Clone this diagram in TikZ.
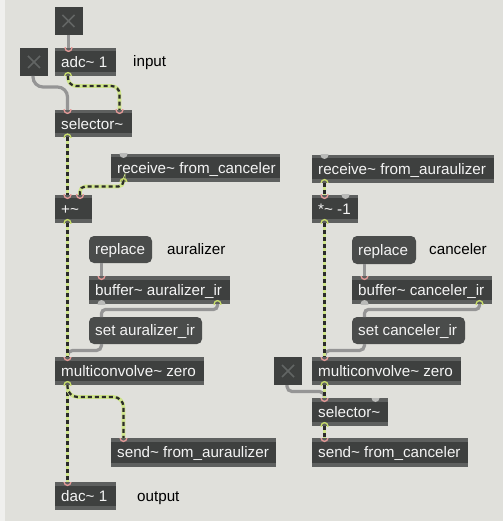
\documentclass[tikz,border=0pt]{standalone}
\usepackage{fontspec}
\newfontfamily\maxfont{Liberation Sans}
\definecolor{bgc}{HTML}{E0E0DB}
\definecolor{stripc}{HTML}{F0F0EE}
\definecolor{boxc}{HTML}{3E403F}
\definecolor{barc}{HTML}{5E605F}
\definecolor{msgc}{HTML}{4A4C4B}
\definecolor{xc}{HTML}{626564}
\definecolor{txtc}{HTML}{F4F4F4}
\definecolor{sigy}{HTML}{CFE58A}
\definecolor{sigk}{HTML}{2B2B2A}
\definecolor{cordc}{HTML}{959595}
\definecolor{inc}{HTML}{E59A98}
\definecolor{outc}{HTML}{C8DD6A}
\definecolor{idlec}{HTML}{B9BAB8}
\tikzset{
  objbox/.style={fill=boxc, draw=none, inner sep=0pt, outer sep=0pt,
    path picture={
      \fill[barc] (path picture bounding box.north west) rectangle ([yshift=-3.5pt]path picture bounding box.north east);
      \fill[barc] (path picture bounding box.south west) rectangle ([yshift=4pt]path picture bounding box.south east);}},
  msgbox/.style={fill=msgc, draw=none, rounded corners=5pt, inner sep=0pt, outer sep=0pt},
  togbox/.style={fill=boxc, draw=none, inner sep=0pt, outer sep=0pt, minimum size=28pt},
  objtxt/.style={text=txtc, font=\maxfont\fontsize{15.2}{17}\selectfont, inner sep=0pt},
  lbltxt/.style={text=black, font=\maxfont\fontsize{15.2}{17}\selectfont, inner sep=0pt},
  sig/.style={preaction={draw=sigy, line width=3.6pt}, draw=sigk, line width=2.2pt, dash pattern=on 4pt off 3pt},
  ctl/.style={draw=cordc, line width=3.2pt},
  inring/.style={draw=inc, line width=1.3pt},
  outring/.style={draw=outc, line width=1.3pt},
}
% name, x1, y1, x2, y2, text
\newcommand\mobj[6]{%
  \node[objbox, minimum width={#4-#2}, minimum height={#5-#3}, anchor=north west] (#1) at (#2,#3) {};
  \node[objtxt, anchor=base west] (#1-t) at ([xshift=6pt, yshift=-5.3pt]#1.west) {#6};}
\newcommand\mmsg[6]{%
  \node[msgbox, minimum width={#4-#2}, minimum height={#5-#3}, anchor=north west] (#1) at (#2,#3) {};
  \node[objtxt, anchor=base west] (#1-t) at ([xshift=6pt, yshift=-5.3pt]#1.west) {#6};}
\newcommand\mtog[3]{%
  \node[togbox, anchor=north west] (#1) at (#2,#3) {};
  \draw[xc, line width=1.6pt] ([xshift=8pt,yshift=-8pt]#1.north west) -- ([xshift=-8pt,yshift=8pt]#1.south east)
    ([xshift=-8pt,yshift=-8pt]#1.north east) -- ([xshift=8pt,yshift=8pt]#1.south west);}
\newcommand\inport[1]{\begin{scope}\clip ([xshift=-5pt]#1) rectangle ([xshift=5pt,yshift=-5pt]#1);
  \draw[inring] (#1) circle[radius=3.4pt];\end{scope}}
\newcommand\outport[1]{\begin{scope}\clip ([xshift=-5pt]#1) rectangle ([xshift=5pt,yshift=5pt]#1);
  \draw[outring] (#1) circle[radius=3.4pt];\end{scope}}
\newcommand\idlein[1]{\begin{scope}\clip ([xshift=-5pt]#1) rectangle ([xshift=5pt,yshift=-5pt]#1);
  \fill[idlec] (#1) circle[radius=4pt];\end{scope}}
\newcommand\idleout[1]{\begin{scope}\clip ([xshift=-5pt]#1) rectangle ([xshift=5pt,yshift=5pt]#1);
  \fill[idlec] (#1) circle[radius=4pt];\end{scope}}
\begin{document}
\begin{tikzpicture}[x=1pt, y=-1pt]
\useasboundingbox (0,0) rectangle (503,521);
\fill[bgc] (0,0) rectangle (503,521);
\fill[stripc] (0,0) rectangle (4.5,521);

% ---- toggles
\mtog{togA}{54.5}{7}
\mtog{togB}{20}{48}
\mtog{togC}{274}{357}

% ---- left column
\mobj{adc}{55}{48}{116}{76}{adc\char"7E\ 1}
\mobj{selA}{55}{110}{132}{137.5}{selector\char"7E}
\mobj{recvC}{111}{154}{280}{182}{receive\char"7E\ from\_canceler}
\mobj{plus}{55}{195}{92}{223}{+\char"7E}
\mmsg{replA}{89}{236}{152}{263}{replace}
\mobj{bufA}{89}{276}{230}{304}{buffer\char"7E\ auralizer\_ir}
\mmsg{setA}{89}{317}{202}{344}{set auralizer\_ir}
\mobj{mcA}{55}{357}{204}{385}{multiconvolve\char"7E\ zero}
\mobj{sendA}{111}{438}{276}{467}{send\char"7E\ from\_auraulizer}
\mobj{dac}{55}{482}{116}{510}{dac\char"7E\ 1}

% ---- right column
\mobj{recvA}{312}{155}{494}{183}{receive\char"7E\ from\_auraulizer}
\mobj{mul}{312}{195}{358}{223}{*\char"7E\ -1}
\mmsg{replC}{352}{236}{416}{264}{replace}
\mobj{bufC}{352}{276}{492}{304}{buffer\char"7E\ canceler\_ir}
\mmsg{setC}{352}{317}{465}{344}{set canceler\_ir}
\mobj{mcC}{312}{357}{461}{385}{multiconvolve\char"7E\ zero}
\mobj{selB}{312}{398}{388}{426}{selector\char"7E}
\mobj{sendC}{312}{438}{468}{467}{send\char"7E\ from\_canceler}

% ---- labels
\node[lbltxt, anchor=base west] (lin) at (133,67) {input};
\node[lbltxt, anchor=base west] (laur) at (167,254.5) {auralizer};
\node[lbltxt, anchor=base west] (lcan) at (429,254.5) {canceler};
\node[lbltxt, anchor=base west] (lout) at (137,501) {output};

% ---- port coordinates
\coordinate (adc-i1) at (68.5,48);
\coordinate (adc-o1) at (68,76);
\coordinate (selA-i1) at (67.5,110);
\coordinate (selA-i2) at (119.5,110);
\coordinate (selA-o1) at (67.5,137.5);
\coordinate (recvC-o1) at (123.5,182);
\coordinate (recvC-i1) at (123.5,154);
\coordinate (plus-i1) at (67.5,195);
\coordinate (plus-i2) at (80,195);
\coordinate (plus-o1) at (67.5,223);
\coordinate (replA-o1) at (101.5,263);
\coordinate (bufA-i1) at (101.5,276);
\coordinate (bufA-o1) at (101.5,304);
\coordinate (bufA-o2) at (217.5,304);
\coordinate (setA-i1) at (101.5,317);
\coordinate (setA-o1) at (101.5,344);
\coordinate (mcA-i1) at (67.5,357);
\coordinate (mcA-o1) at (67.5,385);
\coordinate (sendA-i1) at (123.5,438);
\coordinate (dac-i1) at (67.5,482);
\coordinate (recvA-i1) at (324.5,155);
\coordinate (recvA-o1) at (324.5,183);
\coordinate (mul-i1) at (324.5,195);
\coordinate (mul-i2) at (345.5,195);
\coordinate (mul-o1) at (324.5,223);
\coordinate (replC-o1) at (364.5,264);
\coordinate (bufC-i1) at (364.5,276);
\coordinate (bufC-o1) at (364.5,304);
\coordinate (bufC-o2) at (479.5,304);
\coordinate (setC-i1) at (364.5,317);
\coordinate (setC-o1) at (364.5,344);
\coordinate (mcC-i1) at (324.5,357);
\coordinate (mcC-o1) at (324.5,385);
\coordinate (selB-i1) at (324.5,398);
\coordinate (selB-i2) at (375.5,398);
\coordinate (selB-o1) at (324.5,426);
\coordinate (sendC-i1) at (324.5,438);
\coordinate (togA-o) at (togA.south);
\coordinate (togB-o) at ([xshift=-1pt]togB.south);
\coordinate (togC-o) at ([xshift=-1pt]togC.south);

% ---- control cords
\draw[ctl] (togA-o) -- (adc-i1);
\draw[ctl, rounded corners=10pt] (togB-o) -- ++(0,11) -| (selA-i1);
\draw[ctl] (replA-o1) -- (bufA-i1);
\draw[ctl, rounded corners=4pt] (bufA-o2) -- ++(0,5.5) -| (setA-i1);
\draw[ctl, rounded corners=5pt] (setA-o1) -- ++(0,6.5) -| (mcA-i1);
\draw[ctl] (replC-o1) -- (bufC-i1);
\draw[ctl, rounded corners=4pt] (bufC-o2) -- ++(0,5.5) -| (setC-i1);
\draw[ctl, rounded corners=5pt] (setC-o1) -- ++(0,6.5) -| (mcC-i1);
\draw[ctl, rounded corners=5pt] (togC-o) -- ++(0,6.5) -| (selB-i1);

% ---- signal cords
\draw[sig, rounded corners=8pt] (adc-o1) -- ++(0,10) -| (selA-i2);
\draw[sig] (selA-o1) -- (plus-i1);
\draw[sig, rounded corners=5pt] (recvC-o1) -- ++(0,4.5) -| (plus-i2);
\draw[sig] (plus-o1) -- (mcA-i1);
\draw[sig] (mcA-o1) -- (dac-i1);
\draw[sig, rounded corners=10pt] (mcA-o1) -- ++(0,12) -| (sendA-i1);
\draw[sig] (recvA-o1) -- (mul-i1);
\draw[sig] (mul-o1) -- (mcC-i1);
\draw[sig] (mcC-o1) -- (selB-i1);
\draw[sig] (selB-o1) -- (sendC-i1);

% ---- ports
\foreach \p in {adc-i1, selA-i1, selA-i2, plus-i1, plus-i2, bufA-i1, mcA-i1, sendA-i1, dac-i1,
                mul-i1, bufC-i1, mcC-i1, selB-i1, sendC-i1} {\inport{\p}}
\foreach \p in {adc-o1, selA-o1, recvC-o1, plus-o1, bufA-o2, mcA-o1,
                recvA-o1, mul-o1, bufC-o2, mcC-o1, selB-o1} {\outport{\p}}
\foreach \p in {recvC-i1, recvA-i1, mul-i2, selB-i2} {\idlein{\p}}
\foreach \p in {bufA-o1, bufC-o1} {\idleout{\p}}
\end{tikzpicture}
\end{document}
